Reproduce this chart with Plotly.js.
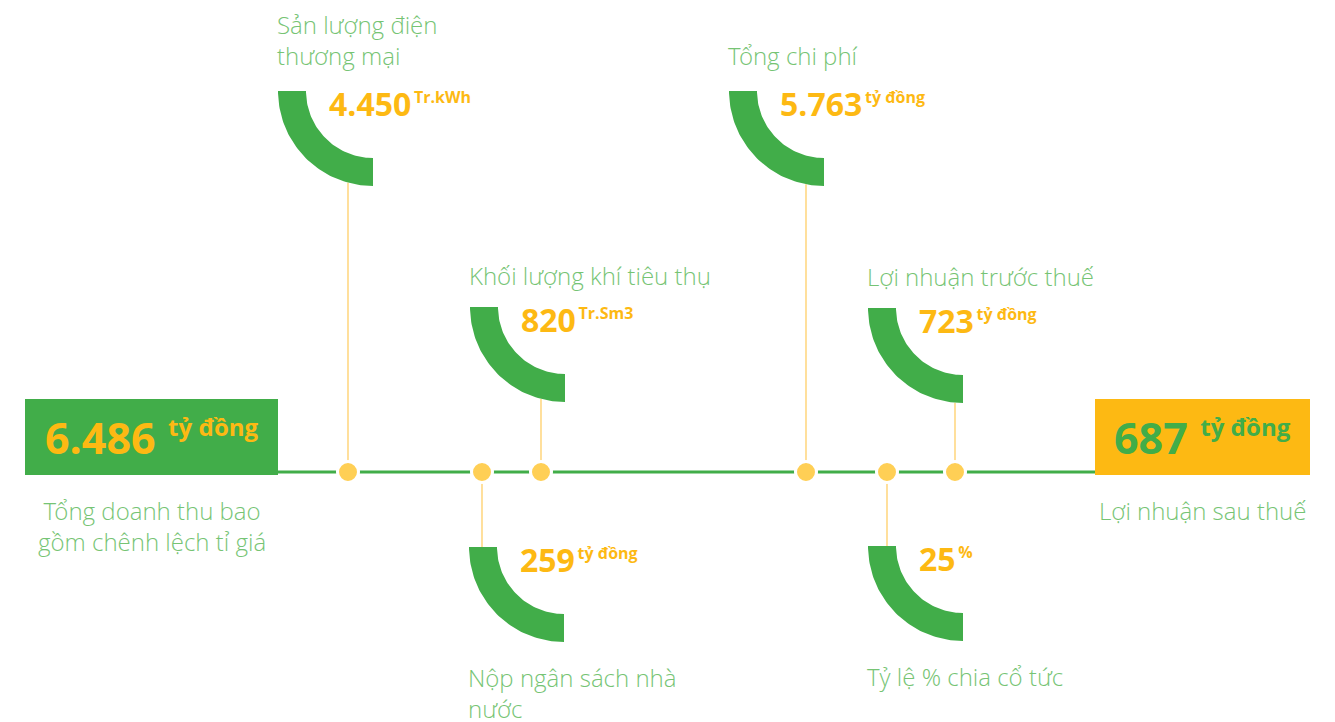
<!DOCTYPE html>
<html><head><meta charset="utf-8">
<script src="https://cdn.plot.ly/plotly-3.0.1.min.js"></script>
<style>html,body{margin:0;padding:0;background:#fff;overflow:hidden}#chart{width:1335px;height:722px}</style>
</head><body><div id="chart"></div>
<script>
// ---------- data ----------
const metricLabels = ["Sản lượng điện<br>thương mại", "Khối lượng khí tiêu thụ", "Nộp ngân sách nhà<br>nước", "Tổng chi phí", "Lợi nhuận trước thuế", "Tỷ lệ % chia cổ tức"];
const metricValues = [4450, 820, 259, 5763, 723, 25];
const metricUnits = ["Tr.kWh", "Tr.Sm3", "tỷ đồng", "tỷ đồng", "tỷ đồng", "%"];
const startLabel = "Tổng doanh thu bao<br>gồm chênh lệch tỉ giá";
const startValue = 6486;
const endLabel = "Lợi nhuận sau thuế";
const endValue = 687;
const boxUnit = "tỷ đồng";

// ---------- layout geometry (pixel space) ----------
const W = 1335, H = 722;
const lineY = 472;
const dotX = [348, 541, 482, 806, 955, 887];
const arcCX = [373, 565, 564, 824, 963, 963];
const arcCY = [91, 307, 547, 91, 308, 546];
const arcSide = ["up", "up", "down", "up", "up", "down"];
const labelGap = [17, 13, 17, 17, 13, 17];
const R_OUT = 95, R_IN = 67;
const startBox = {x0: 25, x1: 278, y0: 399, y1: 475};
const endBox = {x0: 1095, x1: 1310, y0: 399, y1: 475};

// ---------- styles ----------
const GREEN = "#41ad49", ORANGE = "#fdb913", DOT = "#ffcf55", CONN = "#ffd884", LABEL = "#76c474";
const LFONT = "Open Sans Light, Open Sans, Noto Sans, sans-serif";
const VFONT = "Open Sans, Noto Sans, sans-serif";
const THIN = "\u2009";

function fmt(v) { return String(v).replace(/\B(?=(\d{3})+(?!\d))/g, "."); }

const traces = [];
// timeline
traces.push({x: [startBox.x1, endBox.x0], y: [lineY, lineY], mode: "lines", line: {color: GREEN, width: 3}, hoverinfo: "skip"});
// connectors
const cx = [], cy = [];
metricValues.forEach((v, i) => {
  let endY;
  if (arcSide[i] === "up") {
    const dx = dotX[i] - arcCX[i];
    endY = arcCY[i] + Math.sqrt(R_OUT * R_OUT - dx * dx);
  } else {
    endY = arcCY[i];
  }
  cx.push(dotX[i], dotX[i], null);
  cy.push(lineY, endY, null);
});
traces.push({x: cx, y: cy, mode: "lines", line: {color: CONN, width: 1.6}, hoverinfo: "skip"});
// arcs (quarter rings)
metricValues.forEach((v, i) => {
  const xs = [], ys = [];
  const N = 60;
  for (let k = 0; k <= N; k++) {
    const t = (k / N) * Math.PI / 2;
    xs.push(arcCX[i] - R_OUT * Math.sin(t)); ys.push(arcCY[i] + R_OUT * Math.cos(t));
  }
  for (let k = N; k >= 0; k--) {
    const t = (k / N) * Math.PI / 2;
    xs.push(arcCX[i] - R_IN * Math.sin(t)); ys.push(arcCY[i] + R_IN * Math.cos(t));
  }
  traces.push({x: xs, y: ys, mode: "lines", fill: "toself", fillcolor: GREEN, line: {width: 0, color: GREEN}, hoverinfo: "skip"});
});
// dots
traces.push({x: dotX, y: dotX.map(() => lineY), mode: "markers",
  marker: {size: 21, color: DOT, line: {color: "#ffffff", width: 3}}, hoverinfo: "skip"});

const annotations = [];
const labelFont = {family: LFONT, size: 24, color: LABEL, weight: 300};
metricValues.forEach((v, i) => {
  const left = arcCX[i] - R_OUT - 3;
  if (arcSide[i] === "up") {
    annotations.push({x: left, y: arcCY[i] - labelGap[i], xanchor: "left", yanchor: "bottom", align: "left",
      text: metricLabels[i], showarrow: false, font: labelFont});
  } else {
    annotations.push({x: left, y: arcCY[i] + R_OUT + labelGap[i], xanchor: "left", yanchor: "top", align: "left",
      text: metricLabels[i], showarrow: false, font: labelFont});
  }
  annotations.push({x: arcCX[i] - 46, y: arcCY[i] + 12, xanchor: "left", yanchor: "middle", align: "left",
    text: "<b>" + fmt(v) + "</b><sup><span style='font-size:16px;font-weight:bold'>" + THIN + metricUnits[i] + "</span></sup>",
    showarrow: false, font: {family: VFONT, size: 32, color: ORANGE}});
});
// boxes text
annotations.push({x: (startBox.x0 + startBox.x1) / 2, y: (startBox.y0 + startBox.y1) / 2, xanchor: "center", yanchor: "middle",
  text: "<b>" + fmt(startValue) + "</b><sup><span style='font-size:24px;font-weight:bold'>  " + boxUnit + "</span></sup>",
  showarrow: false, font: {family: VFONT, size: 43, color: ORANGE}});
annotations.push({x: (endBox.x0 + endBox.x1) / 2, y: (endBox.y0 + endBox.y1) / 2, xanchor: "center", yanchor: "middle",
  text: "<b>" + fmt(endValue) + "</b><sup><span style='font-size:24px;font-weight:bold'>  " + boxUnit + "</span></sup>",
  showarrow: false, font: {family: VFONT, size: 43, color: GREEN}});
annotations.push({x: (startBox.x0 + startBox.x1) / 2, y: startBox.y1 + 17, xanchor: "center", yanchor: "top", align: "center",
  text: startLabel, showarrow: false, font: labelFont});
annotations.push({x: (endBox.x0 + endBox.x1) / 2, y: endBox.y1 + 17, xanchor: "center", yanchor: "top", align: "center",
  text: endLabel, showarrow: false, font: labelFont});

const shapes = [
  {type: "rect", xref: "x", yref: "y", x0: startBox.x0, x1: startBox.x1, y0: startBox.y0, y1: startBox.y1, fillcolor: GREEN, line: {width: 0}, layer: "below"},
  {type: "rect", xref: "x", yref: "y", x0: endBox.x0, x1: endBox.x1, y0: endBox.y0, y1: endBox.y1, fillcolor: ORANGE, line: {width: 0}, layer: "below"}
];

const layout = {
  width: W, height: H, margin: {l: 0, r: 0, t: 0, b: 0},
  paper_bgcolor: "#ffffff", plot_bgcolor: "#ffffff", showlegend: false,
  xaxis: {range: [0, W], visible: false, fixedrange: true},
  yaxis: {range: [H, 0], visible: false, fixedrange: true},
  shapes: shapes, annotations: annotations
};
Plotly.newPlot("chart", traces, layout, {displayModeBar: false, staticPlot: true});
</script></body></html>
